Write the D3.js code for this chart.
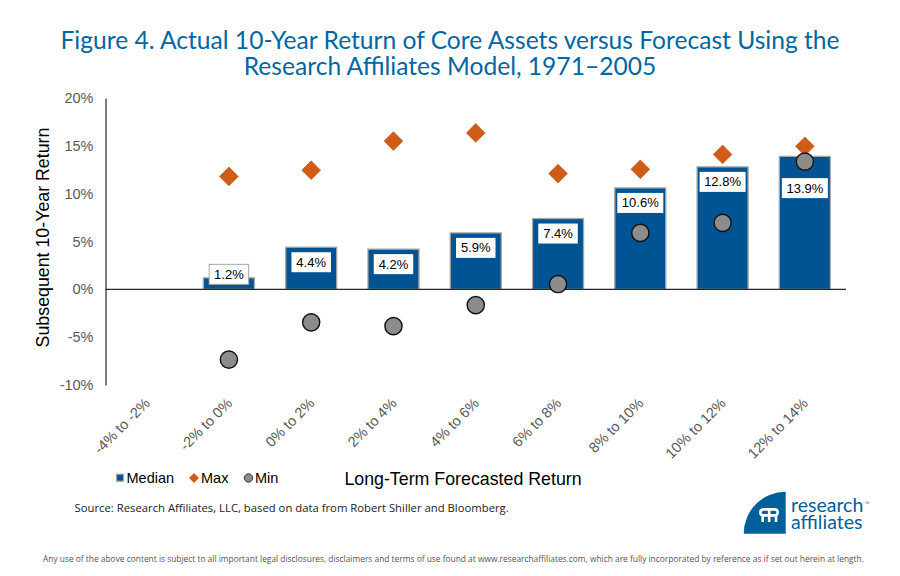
<!DOCTYPE html>
<html>
<head>
<meta charset="utf-8">
<script src="https://cdn.jsdelivr.net/npm/d3@7"></script>
<style>
  html, body { margin: 0; padding: 0; background: #fff; }
  text { font-family: "Liberation Sans", Arial, sans-serif; }
  .corp { font-family: "Open Sans", sans-serif; }
</style>
</head>
<body>
<div id="container-svg"></div>
<script>
// ************************** DATA **************************
var categories = ["-4% to -2%", "-2% to 0%", "0% to 2%", "2% to 4%", "4% to 6%",
                  "6% to 8%", "8% to 10%", "10% to 12%", "12% to 14%"];
var median = [null, 1.2, 4.4, 4.2, 5.9, 7.4, 10.6, 12.8, 13.9];
var max_vals = [null, 11.8, 12.45, 15.5, 16.35, 12.1, 12.55, 14.1, 14.95];
var min_vals = [null, -7.35, -3.45, -3.85, -1.65, 0.55, 5.9, 6.95, 13.35];
var y_ticks = [-10, -5, 0, 5, 10, 15, 20];

var title_lines = ["Figure 4. Actual 10-Year Return of Core Assets versus Forecast Using the",
                   "Research Affiliates Model, 1971\u20132005"];
var source_text = "Source: Research Affiliates, LLC, based on data from Robert Shiller and Bloomberg.";
var footer_text = "Any use of the above content is subject to all important legal disclosures, disclaimers and terms of use found at www.researchaffiliates.com, which are fully incorporated by reference as if set out herein at length.";

// ************************** DISPLAY VARS **************************
var svg_width = 900, svg_height = 576,
    plot_left = 105.5, plot_right = 846,
    plot_top = 98, plot_bottom = 385;

var color_title = "#0066a4",
    color_bar = "#005493",
    color_bar_edge = "#a6a6a6",
    color_max = "#d05c17",
    color_min = "#8c8c8c",
    color_tick = "#595959";

var svg = d3.select("#container-svg").append("svg")
    .attr("width", svg_width)
    .attr("height", svg_height);

// ************************** SCALES **************************
var scale_x = d3.scaleBand()
    .domain(categories)
    .range([plot_left, plot_right])
    .paddingInner(0.38)
    .paddingOuter(0.19);

var scale_y = d3.scaleLinear()
    .domain([-10, 20])
    .range([plot_bottom, plot_top]);

var center_x = function(i) { return scale_x(categories[i]) + scale_x.bandwidth() / 2; };

// ************************** TITLE **************************
svg.selectAll("text.title")
    .data(title_lines)
    .enter()
    .append("text")
    .attr("class", "title")
    .attr("x", 450)
    .attr("y", function(d, i) { return 48.5 + i * 26.7; })
    .attr("text-anchor", "middle")
    .attr("font-size", 24.6)
    .attr("fill", color_title)
    .style("font-family", "Lato, sans-serif")
    .text(function(d) { return d; });

// ************************** AXES **************************
var axis_y = svg.append("g")
    .attr("transform", "translate(" + plot_left + ",0)")
    .call(d3.axisLeft(scale_y).tickValues(y_ticks).tickSize(0).tickPadding(12)
        .tickFormat(function(d) { return d + "%"; }));
axis_y.select(".domain").attr("stroke", "#262626").attr("stroke-width", 1.2);
axis_y.selectAll("text")
    .attr("font-size", 14.5)
    .attr("fill", color_tick)
    .style("font-family", "'Liberation Sans', Arial, sans-serif");

var axis_x = svg.append("g")
    .attr("transform", "translate(0," + plot_bottom + ")")
    .call(d3.axisBottom(scale_x).tickSize(0));
axis_x.select(".domain").remove();
axis_x.selectAll("text")
    .attr("font-size", 14.5)
    .attr("fill", color_tick)
    .attr("text-anchor", "end")
    .attr("dy", 0)
    .attr("transform", "translate(2,17) rotate(-45)")
    .style("font-family", "'Liberation Sans', Arial, sans-serif");

// ************************** BARS **************************
svg.selectAll("rect.bar")
    .data(median)
    .enter()
    .filter(function(d) { return d !== null; })
    .append("rect")
    .attr("class", "bar")
    .attr("x", function(d) { return scale_x(categories[median.indexOf(d)]); })
    .attr("y", function(d) { return scale_y(d); })
    .attr("width", scale_x.bandwidth())
    .attr("height", function(d) { return scale_y(0) - scale_y(d); })
    .attr("fill", color_bar)
    .attr("stroke", color_bar_edge)
    .attr("stroke-width", 1.3);

// zero line goes over the bars
svg.append("line")
    .attr("x1", plot_left)
    .attr("x2", plot_right)
    .attr("y1", scale_y(0))
    .attr("y2", scale_y(0))
    .attr("stroke", "#262626")
    .attr("stroke-width", 1.2);

// ************************** BAR LABELS **************************
var box_h = 20, box_gap = 5, marker_r = 9.5;

median.forEach(function(d, i) {
    if (d === null) return;
    var txt = d.toFixed(1) + "%",
        box_w = d >= 10 ? 46 : 39.5,
        bar_top = scale_y(d),
        zero = scale_y(0),
        box_y = bar_top + box_gap,
        outlined = false;

    // short bar: label sits just above the baseline and sticks out of the bar
    if (zero - bar_top < box_h + 2 * box_gap) {
        box_y = zero - box_gap - box_h;
        outlined = true;
    }
    // min marker in the way: push the label under it
    var min_y = scale_y(min_vals[i]);
    if (min_y + marker_r > box_y && min_y - marker_r < box_y + box_h) {
        box_y = min_y + marker_r + 7;
    }

    svg.append("rect")
        .attr("x", center_x(i) - box_w / 2)
        .attr("y", box_y)
        .attr("width", box_w)
        .attr("height", box_h)
        .attr("fill", "#fff")
        .attr("stroke", outlined ? color_bar_edge : "none");

    svg.append("text")
        .attr("x", center_x(i))
        .attr("y", box_y + box_h / 2 + 4.5)
        .attr("text-anchor", "middle")
        .attr("font-size", 13)
        .attr("fill", "#000")
        .text(txt);
});

// ************************** MARKERS **************************
var diamond = d3.symbol().type(d3.symbolSquare).size(175);

max_vals.forEach(function(d, i) {
    if (d === null) return;
    svg.append("path")
        .attr("d", diamond)
        .attr("transform", "translate(" + center_x(i) + "," + scale_y(d) + ") rotate(45)")
        .attr("fill", color_max)
        .attr("stroke", "#b85214")
        .attr("stroke-width", 0.6);
});

min_vals.forEach(function(d, i) {
    if (d === null) return;
    svg.append("circle")
        .attr("cx", center_x(i))
        .attr("cy", scale_y(d))
        .attr("r", 8.6)
        .attr("fill", color_min)
        .attr("stroke", "#111")
        .attr("stroke-width", 1.4);
});

// ************************** AXIS TITLES **************************
svg.append("text")
    .attr("transform", "translate(49,237.5) rotate(-90)")
    .attr("text-anchor", "middle")
    .attr("font-size", 17.8)
    .attr("fill", "#000")
    .text("Subsequent 10-Year Return");

svg.append("text")
    .attr("x", 463)
    .attr("y", 484.5)
    .attr("text-anchor", "middle")
    .attr("font-size", 17.8)
    .attr("fill", "#000")
    .text("Long-Term Forecasted Return");

// ************************** LEGEND **************************
var legend_y = 478;
svg.append("rect")
    .attr("x", 116.5).attr("y", legend_y - 3.8)
    .attr("width", 7).attr("height", 7)
    .attr("fill", color_bar)
    .attr("stroke", color_bar_edge)
    .attr("stroke-width", 1.2);
svg.append("path")
    .attr("d", d3.symbol().type(d3.symbolSquare).size(50))
    .attr("transform", "translate(194," + legend_y + ") rotate(45)")
    .attr("fill", color_max);
svg.append("circle")
    .attr("cx", 248.5).attr("cy", legend_y).attr("r", 4.2)
    .attr("fill", color_min)
    .attr("stroke", "#222")
    .attr("stroke-width", 0.9);

svg.selectAll("text.legend")
    .data(["Median", "Max", "Min"])
    .enter()
    .append("text")
    .attr("class", "legend")
    .attr("x", function(d, i) { return [126.5, 201, 255][i]; })
    .attr("y", legend_y + 5)
    .attr("font-size", 14.5)
    .attr("fill", "#000")
    .text(function(d) { return d; });

// ************************** SOURCE + FOOTER **************************
svg.append("text")
    .attr("class", "corp")
    .attr("x", 74.5)
    .attr("y", 512)
    .attr("font-size", 11.3)
    .attr("fill", "#222")
    .text(source_text);

svg.append("text")
    .attr("class", "corp")
    .attr("x", 43)
    .attr("y", 561.5)
    .attr("font-size", 8.4)
    .attr("fill", "#555")
    .text(footer_text);

// ************************** LOGO **************************
var logo = svg.append("g").attr("transform", "translate(785.7,533.7)");
logo.append("path")
    .attr("d", d3.arc().innerRadius(0).outerRadius(42).startAngle(-Math.PI / 2).endAngle(0))
    .attr("fill", "#00609c");
// joined double r: two bowls on top, three legs below
logo.append("path")
    .attr("d", "M-16.5,-24.3 H-22 Q-25.3,-24.3 -25.3,-21.3 Q-25.3,-18.3 -22,-18.3 H-11 Q-8,-18.3 -8,-21.3 Q-8,-24.3 -11,-24.3 H-16.5 V-11.7 M-23,-18.3 V-11.7 M-9.7,-18.3 V-11.7")
    .attr("fill", "none")
    .attr("stroke", "#fff")
    .attr("stroke-width", 2.6);

svg.selectAll("text.logo")
    .data(["research", "affiliates"])
    .enter()
    .append("text")
    .attr("class", "logo")
    .attr("x", 791)
    .attr("y", function(d, i) { return 512 + i * 16.5; })
    .attr("font-size", 19.5)
    .attr("fill", "#00609c")
    .style("font-family", "Lato, sans-serif")
    .text(function(d) { return d; });

svg.append("text")
    .attr("x", 864.5)
    .attr("y", 505)
    .attr("font-size", 5)
    .attr("fill", "#00609c")
    .text("\u2122");
</script>
</body>
</html>
